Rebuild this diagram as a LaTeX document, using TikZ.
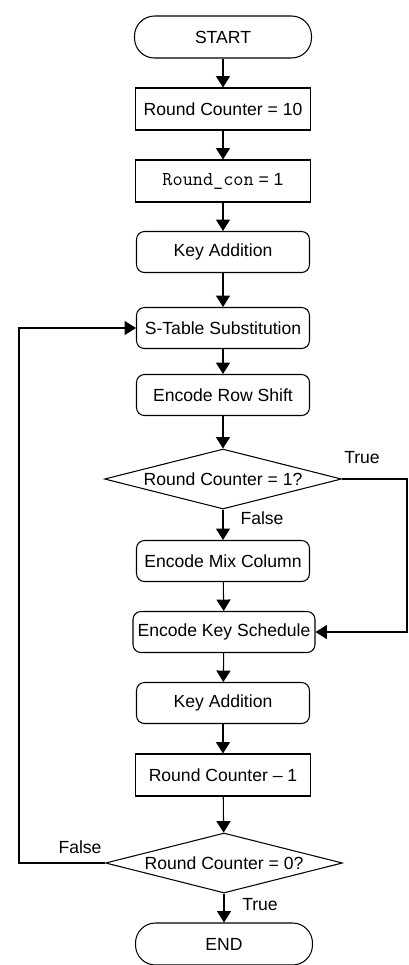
\documentclass[tikz,border=0pt]{standalone}
\usepackage{fontspec}
\setmainfont{Liberation Sans}
\usetikzlibrary{arrows.meta}
\usetikzlibrary{shapes.geometric}
\usetikzlibrary{positioning}

\begin{document}
\begin{tikzpicture}[x=0.02cm,y=-0.02cm,>={Triangle[length=6.5pt,width=8pt]},line width=0.6pt,
    font=\fontsize{10}{12}\selectfont,
    term node/.style={draw,rounded corners=0.4cm,minimum width=3.54cm,minimum height=0.84cm,inner sep=0pt},
    box node/.style={draw,minimum width=3.5cm,minimum height=0.84cm,inner sep=0pt},
    step node/.style={draw,rounded corners=4.5pt,minimum width=3.46cm,minimum height=0.82cm,inner sep=0pt},
    test node/.style={draw,diamond,aspect=4,minimum width=4.74cm,minimum height=1.2cm,inner sep=0pt},
    label node/.style={inner sep=0pt}]
  \useasboundingbox (0,0) rectangle (409,965);
  \node[term node] (start) at (223,37) {START};
  \node[box node] (cnt) at (223,109) {Round Counter = 10};
  \node[box node] (con) at (223,181) {{\fontsize{11.2}{12}\ttfamily Round\_con} = 1};
  \node[step node] (add1) at (223,252) {Key Addition};
  \node[step node] (sub) at (223,328) {S-Table Substitution};
  \node[step node] (shift) at (223,395) {Encode Row Shift};
  \node[test node] (last) at (223,479) {Round Counter = 1?};
  \node[step node] (mix) at (223,561) {Encode Mix Column};
  \node[step node,minimum width=3.64cm] (sched) at (224,632) {Encode Key Schedule};
  \node[step node] (add2) at (223,703) {Key Addition};
  \node[box node] (dec) at (223,775) {Round Counter -- 1};
  \node[test node] (done) at (224,863) {Round Counter = 0?};
  \node[term node] (end) at (224,944) {END};
  % branch labels
  \node[label node] (ltrue) at (362,458) {True};
  \node[label node] (lfalse) at (262,518) {False};
  \node[label node] (dfalse) at (80,847) {False};
  \node[label node] (dtrue) at (260,905) {True};
  \coordinate (skip) at (407,479);
  \coordinate (back) at (19,863);
  \path[->] (start) edge (cnt);
  \path[->] (cnt) edge (con);
  \path[->] (con) edge (add1);
  \path[->] (add1) edge (sub);
  \path[->] (sub) edge (shift);
  \path[->] (shift) edge (last);
  \path[->] (last) edge (mix);
  \path[->] (mix) edge (sched);
  \path[->] (sched) edge (add2);
  \path[->] (add2) edge (dec);
  \path[->] (dec) edge (done);
  \path[->] (done) edge (end);
  \draw[->] (last.east) -- (skip) |- (sched.east);
  \draw[->] (done.west) -- (back) |- (sub.west);
\end{tikzpicture}
\end{document}
